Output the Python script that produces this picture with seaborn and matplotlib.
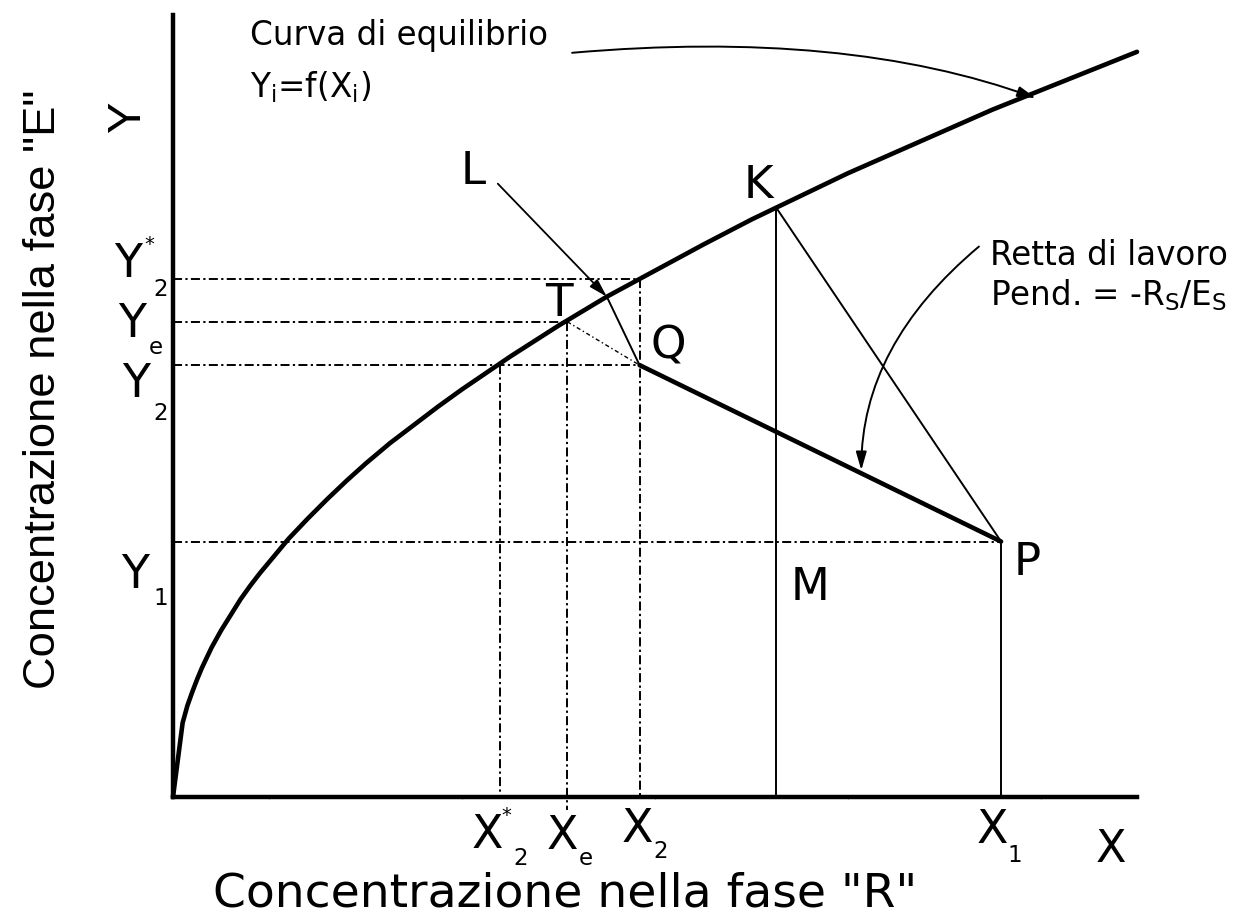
import matplotlib
matplotlib.use("Agg")
import matplotlib.pyplot as plt
import seaborn as sns

# Equilibrium curve Y = f(X) (arbitrary concentration units)
x_eq = [0, 0.1, 0.15, 0.2, 0.25, 0.3, 0.4, 0.5, 0.6, 0.7, 0.8, 0.9, 1.0,
        1.2, 1.4, 1.6, 1.8, 2.0, 2.25, 2.5, 2.75, 3.0, 3.5, 4.0, 4.5, 5.0,
        5.5, 6.0, 6.5, 7.0, 7.5, 8.0, 8.5, 9.0, 9.5, 10.0]
y_eq = [0, 0.77, 0.95, 1.09, 1.22, 1.34, 1.55, 1.73, 1.89, 2.05, 2.19, 2.32,
        2.44, 2.68, 2.89, 3.09, 3.28, 3.46, 3.67, 3.86, 4.05, 4.23, 4.57,
        4.89, 5.19, 5.46, 5.73, 5.99, 6.23, 6.47, 6.69, 6.91, 7.13, 7.33,
        7.53, 7.73]

# Characteristic points of the stage
X1, Y1 = 8.59, 2.65        # P
X2, Y2 = 4.84, 4.48        # Q
Y2_star = 5.37             # equilibrium with X2
Xe, Ye = 4.09, 4.93        # T
X2_star = 3.39             # equilibrium with Y2
XK, YK = 6.26, 6.11        # K
XL, YL = 4.50, 5.19        # L

x_ticks = [1, 3, 5, 7, 9]

sns.set_theme(style="white")
plt.rcParams["font.family"] = ["DejaVu Sans"]
plt.rcParams["text.color"] = "black"
plt.rcParams["lines.scale_dashes"] = False
plt.rcParams["mathtext.fontset"] = "dejavusans"

W, H = 1249, 922
fig = plt.figure(figsize=(W / 100, H / 100), dpi=100)
ax = fig.add_axes([173 / W, 125 / H, 964 / W, 782 / H])
ax.set_xlim(0, 10)
ax.set_ylim(0, 8.112)

for side in ("top", "right"):
    ax.spines[side].set_visible(False)
for side in ("left", "bottom"):
    ax.spines[side].set_color("black")
    ax.spines[side].set_linewidth(3.2)
    ax.spines[side].set_capstyle("projecting")
ax.set_yticks([])
ax.set_xticks(x_ticks)
ax.set_xticklabels([])
ax.tick_params(axis="x", bottom=True, length=3, width=0.8, color="0.55",
               direction="inout")

K = "black"
DASHDOT = (0, (6.5, 2.4, 1.6, 2.4))
FINE = (0, (3.0, 2.0, 1.0, 2.0))
THICK = 3.3
THIN = 1.4

# dash-dot construction lines
ax.plot([0, X2], [Y2_star, Y2_star], color=K, lw=THIN, ls=DASHDOT, clip_on=False)
ax.plot([0, Xe], [Ye, Ye], color=K, lw=THIN, ls=DASHDOT, clip_on=False)
ax.plot([0, X2], [Y2, Y2], color=K, lw=THIN, ls=DASHDOT, clip_on=False)
ax.plot([0, X1], [Y1, Y1], color=K, lw=THIN, ls=DASHDOT, clip_on=False)
ax.plot([X2, X2], [Y2_star, 0], color=K, lw=THIN, ls=DASHDOT, clip_on=False)
ax.plot([Xe, Xe], [Ye, -0.14], color=K, lw=THIN, ls=DASHDOT, clip_on=False)
ax.plot([X2_star, X2_star], [Y2, 0], color=K, lw=THIN, ls=DASHDOT, clip_on=False)
ax.plot([Xe, X2], [Ye, Y2], color=K, lw=1.0, ls=FINE, clip_on=False)

# thin solid lines
ax.plot([XK, XK], [0, YK], color=K, lw=THIN, clip_on=False)
ax.plot([X1, X1], [0, Y1], color=K, lw=THIN, clip_on=False)
ax.plot([XK, X1], [YK, Y1], color=K, lw=THIN, clip_on=False)
ax.plot([X2, XL], [Y2, YL], color=K, lw=THIN, clip_on=False)

# working line and equilibrium curve
sns.lineplot(x=[X2, X1], y=[Y2, Y1], ax=ax, color=K, linewidth=THICK,
             sort=False, estimator=None, clip_on=False)
sns.lineplot(x=x_eq, y=y_eq, ax=ax, color=K, linewidth=THICK, sort=False,
             estimator=None, clip_on=False)
ax.set_xlabel("")
ax.set_ylabel("")

# arrows
arrow_style = "-|>,head_length=0.55,head_width=0.16"
ax.annotate("", xy=(XL, YL), xytext=(-109, 113), textcoords="offset pixels",
            arrowprops=dict(arrowstyle=arrow_style, color=K, lw=1.3,
                            mutation_scale=20, shrinkA=0, shrinkB=0),
            annotation_clip=False)
ax.annotate("", xy=(8.95, 7.25), xytext=(4.14, 7.72),
            arrowprops=dict(arrowstyle=arrow_style, color=K, lw=1.4,
                            mutation_scale=20, shrinkA=0, shrinkB=0,
                            connectionstyle="angle3,angleA=5,angleB=-20"),
            annotation_clip=False)
ax.annotate("", xy=(7.14, 3.39), xytext=(8.36, 5.71),
            arrowprops=dict(arrowstyle=arrow_style, color=K, lw=1.4,
                            mutation_scale=20, shrinkA=0, shrinkB=0,
                            connectionstyle="angle3,angleA=40,angleB=90"),
            annotation_clip=False)


def put(text, xy, off, size, **kw):
    ax.annotate(text, xy=xy, xytext=off, textcoords="offset pixels",
                ha="center", va="baseline", fontsize=size, color=K,
                annotation_clip=False, **kw)


# point letters
BIG = 32.5
put("K", (XK, YK), (-18, 10), BIG)
put("L", (XL, YL), (-134, 113), BIG)
put("T", (Xe, Ye), (-8, 6), BIG)
put("Q", (X2, Y2), (29, 7), BIG)
put("P", (X1, Y1), (26, -33), BIG)
put("M", (XK, Y1), (34, -58), BIG)

# indexed labels on the Y axis
AX = 33
SUB = 16.5
put("Y", (0, Y2_star), (-45, 2), AX)
put("2", (0, Y2_star), (-12, -17), SUB)
put("*", (0, Y2_star), (-24, 29), 14)
put("Y", (0, Ye), (-41, -15), AX)
put("e", (0, Ye), (-17, -32), SUB)
put("Y", (0, Y2), (-37, -32), AX)
put("2", (0, Y2), (-12, -55), SUB)
put("Y", (0, Y1), (-38, -46), AX)
put("1", (0, Y1), (-12, -63), SUB)

# indexed labels on the X axis
put("X", (X2_star, 0), (-12, -51), AX)
put("*", (X2_star, 0), (7, -24), 14)
put("2", (X2_star, 0), (21, -68), SUB)
put("X", (Xe, 0), (-5, -52), AX)
put("e", (Xe, 0), (19, -68), SUB)
put("X", (X2, 0), (-2, -45), AX)
put("2", (X2, 0), (21, -61), SUB)
put("X", (X1, 0), (-9, -46), AX)
put("1", (X1, 0), (14, -65), SUB)

# axis names and titles
fig.text(1111 / W, 60 / H, "X", ha="center", va="baseline", fontsize=32)
fig.text(140 / W, 806 / H, "Y", ha="center", va="baseline", fontsize=34,
         rotation=90, rotation_mode="anchor", family="Liberation Sans")
fig.text(565 / W, 16 / H, 'Concentrazione nella fase "R"', ha="center",
         va="baseline", fontsize=34)
fig.text(55 / W, 533 / H, 'Concentrazione nella fase "E"', ha="center",
         va="baseline", fontsize=32.7, rotation=90, rotation_mode="anchor",
         family="Liberation Sans")

# annotations
NOTE = 23.5
fig.text(250 / W, 877 / H, "Curva di equilibrio", ha="left", va="baseline",
         fontsize=NOTE)
fig.text(250 / W, 825 / H, r"Y$_\mathregular{i}$=f(X$_\mathregular{i}$)",
         ha="left", va="baseline", fontsize=NOTE)
fig.text(990 / W, 657 / H, "Retta di lavoro", ha="left", va="baseline",
         fontsize=NOTE)
fig.text(990 / W, 617 / H,
         r"Pend. = -R$_\mathregular{S}$/E$_\mathregular{S}$",
         ha="left", va="baseline", fontsize=NOTE)

fig.savefig("out.png", dpi=100, facecolor="white")
